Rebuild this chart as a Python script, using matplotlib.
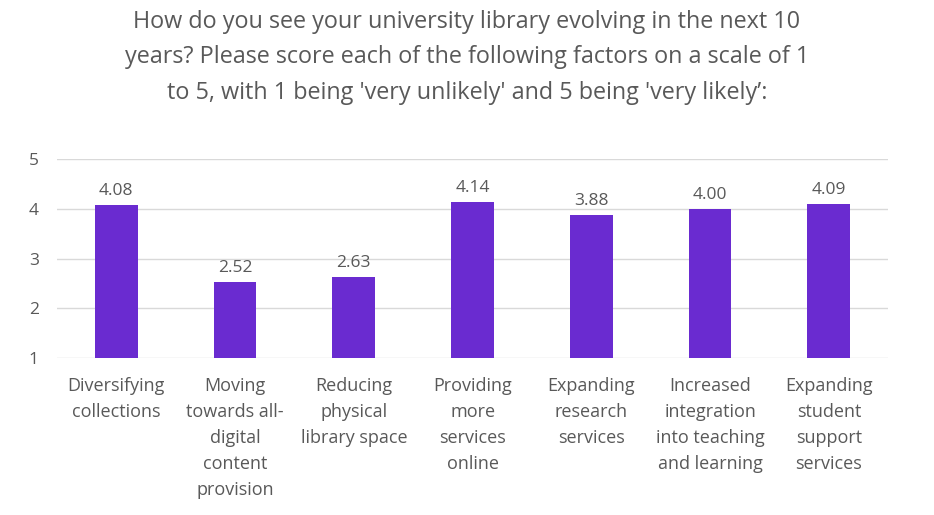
import matplotlib
matplotlib.use("Agg")
import matplotlib.pyplot as plt

categories = ["Diversifying\ncollections", "Moving\ntowards all-\ndigital\ncontent\nprovision",
              "Reducing\nphysical\nlibrary space", "Providing\nmore\nservices\nonline",
              "Expanding\nresearch\nservices", "Increased\nintegration\ninto teaching\nand learning",
              "Expanding\nstudent\nsupport\nservices"]
values = [4.08, 2.52, 2.63, 4.14, 3.88, 4.00, 4.09]
yticks = [1, 2, 3, 4, 5]
title = ("How do you see your university library evolving in the next 10\n"
         "years? Please score each of the following factors on a scale of 1\n"
         "to 5, with 1 being 'very unlikely' and 5 being 'very likely’:")

plt.rcParams['font.family'] = ['Open Sans', 'DejaVu Sans']
textc = "#595959"
barc = "#6A2BD0"

fig = plt.figure(figsize=(9.34, 5.15), dpi=100)
ax = fig.add_axes([0.061, 0.305, 0.890, 0.386])
x = range(len(values))
ax.bar(x, [v - 1 for v in values], bottom=1, width=0.36, color=barc, zorder=3)
for i, v in enumerate(values):
    ax.text(i, v + 0.12, f"{v:.2f}", ha="center", va="bottom", fontsize=12.5, color=textc)
ax.set_xlim(-0.5, len(values) - 0.5)
ax.set_ylim(1, 5)
ax.set_yticks(yticks)
ax.set_yticklabels([str(t) for t in yticks], fontsize=12.5, color=textc)
ax.set_xticks(list(x))
ax.set_xticklabels(categories, fontsize=13, color=textc, linespacing=1.57, va="top")
ax.tick_params(axis="both", length=0)
ax.tick_params(axis="x", pad=14)
ax.tick_params(axis="y", pad=13)
for s in ax.spines.values():
    s.set_visible(False)
ax.grid(axis="y", color="#d9d9d9", linewidth=1, zorder=0)
ax.set_axisbelow(True)
fig.text(0.5, 0.980, title, ha="center", va="top", fontsize=16.8, color=textc, linespacing=1.62)
fig.savefig("out.png", dpi=100, facecolor="white")
